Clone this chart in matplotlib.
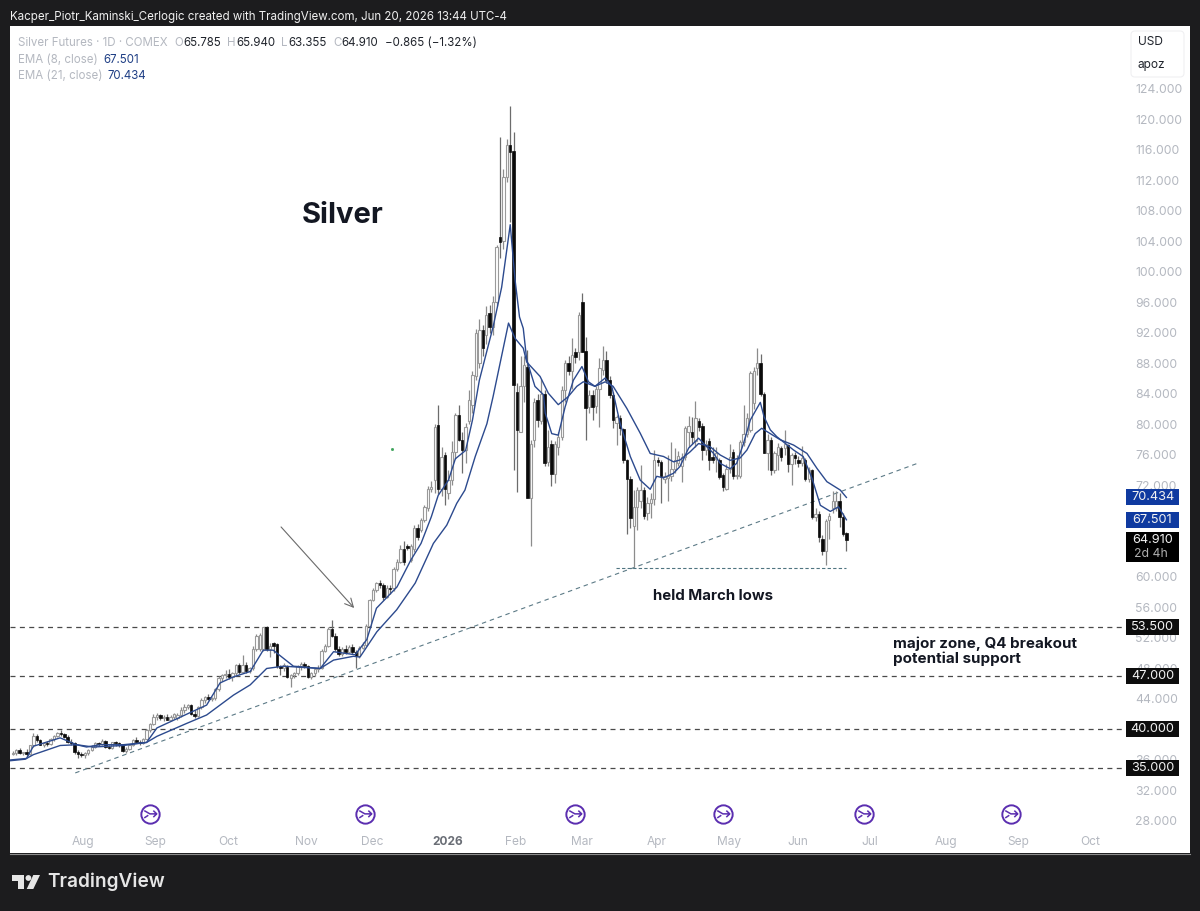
import numpy as np
import matplotlib
matplotlib.use('Agg')
import matplotlib.pyplot as plt
from matplotlib.patches import Circle, FancyBboxPatch, Polygon, Rectangle
from matplotlib.path import Path

plt.rcParams['font.family'] = ['Inter', 'DejaVu Sans']

# daily silver futures candles, ten bars per row
opens = [
    36.8, 36.9, 37.3, 36.9, 37.0, 36.8, 37.9, 39.2, 38.6, 38.0,
    38.2, 38.1, 38.7, 39.2, 39.5, 39.4, 39.0, 38.4, 38.2, 37.0,
    36.8, 36.6, 36.9, 37.3, 37.7, 38.2, 38.1, 38.5, 37.7, 37.6,
    38.3, 38.2, 37.9, 37.2, 37.5, 37.9, 38.6, 38.4, 38.2, 38.7,
    39.9, 40.7, 41.7, 41.9, 41.5, 41.7, 41.3, 41.6, 41.5, 41.9,
    42.6, 43.0, 43.2, 42.0, 41.8, 42.9, 43.9, 44.2, 44.0, 44.1,
    45.3, 46.8, 47.1, 47.3, 46.9, 47.4, 48.4, 47.6, 48.5, 47.7,
    48.0, 50.6, 50.5, 50.5, 53.4, 50.5, 51.3, 51.2, 48.3, 48.1,
    48.2, 46.8, 47.2, 47.4, 48.3, 48.6, 48.3, 46.9, 47.4, 47.9,
    48.1, 50.3, 51.0, 53.2, 52.3, 50.5, 49.9, 50.5, 50.2, 50.8,
    50.1, 49.6, 50.7, 51.1, 53.6, 57.0, 58.3, 59.2, 58.9, 57.4,
    58.6,
    58.6, 61.1, 62.0, 63.7, 64.1, 62.2, 63.7, 66.4, 66.2, 67.5,
    69.0, 71.6, 72.7, 79.9, 71.6, 76.0, 71.0, 72.7, 76.4, 81.2,
    78.0, 76.6, 80.4, 82.5, 86.3, 88.0, 92.4, 91.7, 94.6, 92.8,
    96.1, 104.6, 104.0, 112.4, 116.7, 115.9, 84.3, 79.0, 85.0, 87.6,
    70.3, 78.0, 83.2, 80.4, 84.0, 75.1, 77.5, 73.5, 77.0, 78.4,
    84.5, 88.0, 87.0, 89.5, 89.5, 96.0, 89.7, 82.3, 83.9, 82.4,
    84.7, 87.1, 88.5, 85.8, 83.9, 80.2, 80.8, 79.4, 75.3, 72.8,
    66.7, 69.2, 70.0, 71.4, 68.4, 69.7, 70.2, 75.4, 75.1, 72.8,
    73.0, 73.2, 74.2, 75.0, 74.5, 75.8, 79.0, 79.0, 77.8, 80.4,
    79.8, 76.7, 77.8, 75.8, 75.5, 75.3, 73.4, 71.6, 74.2, 76.4,
    73.2, 73.2, 77.7, 78.8, 79.3, 82.8, 87.4, 88.1, 84.0, 76.2,
    78.0, 74.0, 76.0, 76.9, 76.9, 77.3, 74.8, 76.0, 75.4, 75.0,
    75.3, 72.9, 74.0, 67.9, 68.3, 65.0, 63.4, 67.5, 69.0, 69.0,
    70.0, 67.9, 65.785,
]
highs = [
    37.2, 37.5, 37.6, 37.1, 37.4, 38.0, 39.5, 39.4, 38.8, 38.4,
    38.5, 38.9, 39.3, 39.7, 39.9, 39.6, 39.3, 38.7, 38.3, 37.3,
    37.0, 37.0, 37.4, 37.9, 38.4, 38.4, 38.7, 38.6, 38.0, 38.4,
    38.5, 38.4, 38.1, 37.7, 38.0, 38.7, 39.0, 38.6, 38.9, 40.1,
    40.9, 42.0, 42.1, 42.0, 41.9, 42.0, 41.9, 42.2, 42.2, 42.9,
    43.3, 43.4, 43.3, 42.6, 43.1, 44.1, 44.4, 44.6, 44.3, 45.5,
    47.0, 47.3, 47.8, 47.9, 47.6, 48.6, 48.7, 49.8, 48.9, 48.2,
    50.9, 52.5, 52.6, 53.5, 53.6, 51.3, 51.5, 51.4, 48.5, 48.7,
    48.4, 47.3, 47.6, 48.5, 48.8, 48.9, 48.5, 47.6, 48.1, 48.4,
    50.5, 51.2, 53.4, 54.4, 52.6, 50.9, 50.8, 51.1, 51.1, 51.2,
    50.4, 50.9, 51.5, 53.8, 57.1, 58.5, 59.4, 59.6, 59.2, 58.9,
    59.0,
    61.3, 62.4, 64.2, 64.7, 64.3, 64.3, 66.8, 66.9, 67.8, 69.5,
    71.9, 72.6, 80.0, 82.5, 77.0, 76.4, 74.0, 77.8, 81.5, 82.5,
    79.0, 80.2, 84.5, 87.0, 92.5, 93.8, 93.0, 95.5, 95.7, 96.9,
    103.5, 117.7, 113.5, 117.5, 121.8, 118.4, 85.5, 89.0, 89.0, 89.8,
    78.0, 83.5, 84.0, 86.0, 84.5, 79.3, 78.0, 77.8, 79.0, 85.0,
    88.5, 89.0, 91.3, 90.0, 94.7, 97.3, 91.5, 84.5, 84.5, 85.0,
    88.7, 90.3, 89.7, 86.3, 84.2, 81.3, 81.2, 79.6, 75.5, 73.3,
    71.4, 71.8, 74.7, 71.8, 70.5, 71.0, 76.6, 75.7, 75.4, 73.8,
    76.0, 77.7, 76.9, 76.5, 76.2, 79.8, 81.1, 81.0, 83.1, 80.9,
    80.2, 78.0, 78.2, 77.0, 77.1, 75.6, 73.7, 74.8, 77.4, 76.8,
    76.0, 78.0, 82.6, 81.5, 87.0, 87.5, 90.0, 89.2, 84.3, 78.8,
    78.4, 76.5, 77.6, 77.2, 79.3, 77.5, 76.2, 76.4, 75.9, 77.2,
    75.6, 74.4, 74.2, 69.0, 68.6, 65.5, 67.6, 68.4, 71.3, 71.3,
    71.0, 68.4, 65.94,
]
lows = [
    36.6, 36.6, 36.8, 36.6, 36.5, 36.7, 37.7, 38.4, 37.9, 37.7,
    37.8, 37.9, 38.5, 39.0, 39.2, 38.9, 38.2, 38.0, 36.8, 36.3,
    36.4, 36.3, 36.7, 37.2, 37.6, 37.8, 37.9, 37.6, 37.4, 37.5,
    37.8, 37.7, 37.0, 36.9, 37.3, 37.8, 38.2, 38.0, 38.1, 38.6,
    39.7, 40.6, 41.3, 41.3, 41.1, 41.2, 41.1, 41.4, 41.3, 41.6,
    42.2, 42.7, 41.9, 41.5, 41.6, 42.7, 43.5, 43.9, 43.8, 43.9,
    45.1, 46.4, 46.7, 46.6, 46.4, 47.1, 47.3, 47.4, 47.4, 47.4,
    47.8, 50.3, 50.3, 50.3, 50.3, 49.5, 50.0, 48.0, 47.2, 47.7,
    46.7, 45.6, 46.8, 47.1, 47.8, 48.0, 46.7, 46.6, 47.0, 47.6,
    47.9, 50.1, 50.8, 52.1, 50.3, 49.7, 49.6, 49.9, 50.0, 49.9,
    48.0, 49.4, 50.5, 51.0, 53.4, 56.8, 58.0, 58.6, 57.0, 57.2,
    57.8,
    58.2, 60.8, 61.8, 61.6, 63.6, 61.9, 63.3, 64.9, 65.9, 67.2,
    68.7, 71.2, 71.0, 70.9, 70.6, 69.4, 70.2, 72.0, 75.5, 77.8,
    73.6, 75.0, 80.0, 81.5, 85.8, 87.4, 89.0, 90.5, 92.0, 91.8,
    95.5, 101.8, 103.0, 111.8, 106.6, 74.0, 71.2, 79.0, 83.0, 70.3,
    64.0, 77.0, 79.7, 80.0, 74.5, 74.5, 71.9, 72.3, 76.0, 78.0,
    83.0, 86.5, 84.7, 88.0, 88.5, 89.5, 78.0, 81.5, 80.6, 81.5,
    79.7, 86.5, 85.5, 83.5, 79.5, 77.3, 78.6, 75.0, 65.7, 66.4,
    61.3, 66.2, 69.0, 67.6, 67.5, 67.7, 69.5, 74.6, 69.7, 72.3,
    70.0, 72.6, 73.6, 74.5, 72.5, 75.4, 77.0, 77.5, 77.0, 79.2,
    75.3, 76.0, 74.0, 75.0, 73.8, 72.8, 71.3, 71.4, 73.7, 72.9,
    72.9, 73.0, 77.2, 78.4, 79.0, 82.0, 86.5, 83.8, 76.2, 74.0,
    73.4, 73.6, 74.0, 75.2, 76.0, 73.8, 72.1, 74.8, 74.4, 74.6,
    72.6, 72.4, 67.6, 67.4, 64.6, 62.9, 61.6, 65.0, 68.4, 68.6,
    66.6, 65.4, 63.355,
]
closes = [
    36.9, 37.3, 36.9, 37.0, 36.8, 37.9, 39.2, 38.6, 38.0, 38.2,
    38.1, 38.7, 39.2, 39.5, 39.4, 39.0, 38.4, 38.2, 37.0, 36.8,
    36.6, 36.9, 37.3, 37.7, 38.2, 38.1, 38.5, 37.7, 37.6, 38.3,
    38.2, 37.9, 37.2, 37.5, 37.9, 38.6, 38.4, 38.2, 38.7, 39.9,
    40.7, 41.7, 41.9, 41.5, 41.7, 41.3, 41.6, 42.0, 41.9, 42.6,
    43.0, 43.2, 42.0, 41.8, 42.9, 43.9, 44.2, 44.0, 44.1, 45.3,
    46.8, 47.1, 47.3, 46.9, 47.4, 48.4, 47.6, 48.5, 47.7, 48.0,
    50.6, 52.3, 52.4, 53.4, 50.5, 51.0, 50.9, 48.3, 48.1, 48.4,
    46.9, 47.2, 47.4, 48.3, 48.6, 48.3, 46.9, 47.4, 47.9, 48.1,
    50.3, 51.0, 53.2, 52.3, 50.5, 49.9, 50.5, 50.2, 50.8, 50.1,
    49.6, 50.7, 51.1, 53.6, 57.0, 58.3, 59.2, 59.0, 57.4, 58.6,
    58.4,
    61.1, 62.0, 63.7, 62.0, 63.8, 64.0, 66.4, 65.3, 67.5, 69.2,
    71.5, 71.8, 79.7, 71.6, 75.8, 71.6, 72.7, 76.4, 81.2, 78.0,
    76.6, 79.7, 83.2, 86.5, 92.0, 92.4, 90.0, 94.4, 92.8, 96.1,
    103.3, 103.9, 112.4, 116.7, 115.8, 85.2, 79.3, 85.0, 87.8, 70.3,
    77.5, 83.0, 80.6, 84.0, 74.9, 77.0, 73.5, 77.5, 78.4, 84.5,
    88.0, 87.0, 89.1, 88.8, 94.4, 89.5, 82.2, 83.9, 82.3, 84.7,
    87.4, 88.5, 85.8, 83.9, 80.6, 81.0, 79.5, 75.3, 72.8, 67.8,
    69.2, 71.4, 71.4, 68.0, 69.7, 70.2, 75.4, 75.1, 73.2, 73.2,
    73.3, 74.2, 75.3, 75.9, 75.8, 79.6, 79.8, 78.3, 80.8, 79.7,
    76.7, 77.5, 75.4, 75.4, 76.2, 73.1, 71.8, 74.2, 75.8, 73.2,
    73.4, 77.7, 78.8, 80.8, 86.8, 87.0, 88.1, 84.0, 76.3, 78.0,
    74.0, 76.2, 77.1, 75.8, 77.5, 74.8, 76.0, 75.6, 75.0, 75.6,
    72.9, 74.0, 67.9, 68.3, 65.3, 63.4, 67.4, 68.0, 70.0, 70.0,
    67.9, 65.7, 64.91,
]

# moving averages: bar number, price
ema8_bars = [-20.8, -16, -14, -6.2, -1.4, 1.5, 5.4, 12.2, 19, 22, 32.6, 36.5, 40.4, 44.3, 49.2, 53, 55.9,
             61.8, 69.6, 73.5, 79.8, 83.2, 86, 92, 96, 99, 102, 104, 107, 109, 112, 114, 116, 120, 122.5,
             125, 126.4, 127.7, 128.8, 129.8, 132.2, 134.7, 135.2, 137.1, 139, 141, 143.4, 145.9, 147.8,
             149.7, 152.7, 154.6, 157, 160, 162.9, 165.8, 167.7, 169.7, 172.6, 174.5, 177, 179.9, 181.8,
             184.3, 186.2, 189.1, 191, 193, 195, 197.9, 199, 200.8, 202.7, 207.6, 210.4, 213, 215.4,
             218.3, 220.7, 223]
ema8_vals = [36.0, 36.2, 37.8, 38.9, 38.0, 37.7, 38.0, 38.0, 38.3, 40.2, 42.4, 43.2, 46.1, 46.9, 47.6, 50.4, 50.4,
             48.3, 48.0, 50.2, 49.8, 51.8, 55.9, 58.7, 62.2, 64.4, 67.9, 70.7, 72.7, 75.5, 76.6, 80.6, 85.8,
             92.8, 98.0, 106.2, 99.0, 94.1, 92.6, 88.5, 85.0, 83.9, 81.5, 78.8, 78.6, 82.3, 85.8, 87.6, 85.6,
             85.0, 86.1, 85.0, 80.2, 75.8, 72.7, 71.5, 73.2, 73.0, 73.6, 74.5, 76.9, 78.2, 77.3,
             76.2, 74.9, 74.2, 74.9, 77.5, 80.6, 82.9, 81.0, 79.3, 78.4, 76.65, 75.8, 72.9, 69.4,
             68.6, 69.2, 67.501]
ema21_bars = [-20.8, -16.4, -14, -6.2, -1.4, 3.4, 12.2, 19, 22, 30.7, 36.5, 44.3, 49.2, 54, 58.9, 69.6, 73.5, 79.3,
              81.2, 86.1, 91.9, 97.3, 102.6, 106.5, 109.4, 111.8, 114.8, 118.2, 120, 124.5, 126.4, 128.8,
              129.8, 133.7, 136.1, 139, 141.9, 144.4, 146.3, 149.7, 152.7, 155, 159, 162.9, 165.8, 169.7,
              172.6, 174.5, 177.4, 179.9, 183.2, 186.2, 189.1, 192, 194, 196.4, 198.3, 200.8, 203.7,
              207.6, 211.5, 214.4, 217.3, 221.2, 223]
ema21_vals = [35.9, 36.1, 36.7, 37.9, 38.0, 37.7, 37.9, 38.3, 39.1, 40.8, 41.9, 44.5, 45.85, 48.0, 48.3, 48.0, 49.1, 49.6,
              49.5, 52.8, 55.7, 59.2, 64.4, 66.8, 69.65, 71.4, 75.8, 80.1, 83.65, 93.3, 91.3, 90.0,
              88.2, 86.3, 84.1, 82.6, 83.65, 85.0, 85.6, 85.0, 85.6, 85.0, 82.1, 78.85, 76.2, 75.8,
              75.1, 75.35, 76.4, 77.5, 77.1, 76.0, 75.3, 75.6, 76.65, 78.8, 79.5, 78.8, 78.0,
              77.3, 76.2, 74.25, 72.5, 71.4, 70.434]

levels = [53.5, 47.0, 40.0, 35.0]
trend_bars = [-1.8, 244.0]
trend_vals = [34.3, 74.95]
held_bars = [155.8, 222.8]
held_val = 61.2
rollover_bars = [20, 82.7, 143.9, 187, 228.2, 271]
month_bars = [0.5, 21.5, 42.8, 65.5, 84.7, 106.9, 126.7, 146, 167.8, 188.8, 208.9, 229.9, 252, 273, 294]
month_labels = ['Aug', 'Sep', 'Oct', 'Nov', 'Dec', '2026', 'Feb', 'Mar', 'Apr', 'May', 'Jun', 'Jul', 'Aug', 'Sep', 'Oct']
# 40, 64 and 68 sit fully behind price tags, so they get no label
price_ticks = [28, 32, 36, 44, 48, 52, 56, 60, 72, 76, 80, 84, 88, 92, 96, 100, 104, 108, 112, 116, 120, 124]

DARK = '#1c1c1e'
NAVY = '#2c4a8e'
TAG_BLUE = '#0f3aa0'
MUTED = '#b4b8c0'
INK = '#131722'

fig = plt.figure(figsize=(12, 9.11), dpi=100, facecolor=DARK)

# page furniture is laid out in pixels on its own axes
page = fig.add_axes([0, 0, 1, 1], zorder=0)
page.set_xlim(0, 1200)
page.set_ylim(911, 0)
page.axis('off')
page.add_patch(Rectangle((10, 26), 1180, 827, fc='white', ec='none'))
page.plot([10, 1190], [853.5, 853.5], color='#8c8c8c', lw=0.8)
page.text(10, 17, 'Kacper_Piotr_Kaminski_Cerlogic created with TradingView.com, Jun 20, 2026 13:44 UTC-4',
          color='#f0f0f0', fontsize=8.3, va='center')

# TradingView logo
page.add_patch(Polygon([(12, 875), (24, 875), (24, 889), (18.3, 889), (18.3, 881), (12, 881)], fc='#e6e6e6', ec='none'))
page.add_patch(Circle((28.4, 878), 2.9, fc='#e6e6e6', ec='none'))
page.add_patch(Polygon([(33.3, 875), (40, 875), (33.3, 889), (26.7, 889)], fc='#e6e6e6', ec='none'))
page.text(47, 882, 'TradingView', color='#e6e6e6', fontsize=13.7, fontweight='semibold', va='center')

# legend block
page.text(18, 43, 'Silver Futures · 1D · COMEX', color=MUTED, fontsize=8.3, va='center')
for x, s, col in [(174, 'O', MUTED), (183, '65.785', '#20242c'), (227, 'H', MUTED), (236, '65.940', '#20242c'),
                  (281, 'L', MUTED), (288, '63.355', '#20242c'), (333, 'C', MUTED), (341, '64.910', '#20242c'),
                  (385, '−0.865 (−1.32%)', '#20242c')]:
    page.text(x, 43, s, color=col, fontsize=8.3, va='center')
page.text(18, 60, 'EMA (8, close)', color=MUTED, fontsize=8.3, va='center')
page.text(103, 60, '67.501', color='#1f3f85', fontsize=8.3, va='center')
page.text(18, 76, 'EMA (21, close)', color=MUTED, fontsize=8.3, va='center')
page.text(108, 76, '70.434', color='#1f3f85', fontsize=8.3, va='center')

# currency and unit box
page.add_patch(FancyBboxPatch((1131, 31), 53, 46, boxstyle='round,pad=0,rounding_size=4', fc='white', ec='#f0f0f2', lw=0.8))
page.text(1138, 42, 'USD', color='#20242c', fontsize=8.6, va='center')
page.text(1138, 65, 'apoz', color='#20242c', fontsize=8.6, va='center')

ax = fig.add_axes([10 / 1200, 1 - 853 / 911, 1116 / 1200, 827 / 911], zorder=1)
ax.patch.set_visible(False)
for spine in ax.spines.values():
    spine.set_visible(False)
ax.set_xlim(-20.82, 304.5)
ax.set_ylim(23.8, 132.26)
ax.set_axisbelow(True)

bars = np.arange(len(closes)) - 20
o = np.array(opens)
h = np.array(highs)
l = np.array(lows)
c = np.array(closes)
up = c >= o

ax.vlines(bars[up], l[up], h[up], color='#8c8c8c', lw=0.9, zorder=2)
ax.vlines(bars[~up], l[~up], h[~up], color='#6c6c6c', lw=0.9, zorder=2)
ax.bar(bars[up], (c - o)[up], bottom=o[up], width=0.68, fc='white', ec='#9a9a9a', lw=0.8, zorder=3)
ax.bar(bars[~up], (c - o)[~up], bottom=o[~up], width=0.72, fc='#0a0a0a', ec='#0a0a0a', lw=0.5, zorder=3)

ax.plot(ema8_bars, ema8_vals, color=NAVY, lw=1.0, zorder=4)
ax.plot(ema21_bars, ema21_vals, color=NAVY, lw=1.0, zorder=4)

# horizontal levels with their price tags
ax.hlines(levels, -20.82, 304.5, color='#4a4a4a', lw=0.9, linestyles=(0, (4, 3.5)), zorder=1)
ax.plot(trend_bars, trend_vals, color='#5c7a86', lw=0.8, ls=(0, (4, 3.5)), zorder=1)
ax.plot(held_bars, [held_val, held_val], color='#4f7480', lw=0.8, ls=(0, (3, 2)), zorder=1)
ax.plot([90.6], [76.8], marker='s', ms=1.0, color='#3da35a', zorder=1)

# hand drawn arrow towards the breakout
ax.annotate('', xy=(79.5, 55.93), xytext=(58.2, 66.56),
            arrowprops=dict(arrowstyle='->,head_length=0.6,head_width=0.3', color='#6a6a6a', lw=0.8, shrinkA=0, shrinkB=0))

ax.text(64.3, 107.4, 'Silver', fontsize=21, fontweight='bold', color=INK, va='center')
ax.text(166.6, 57.5, 'held March lows', fontsize=10.8, fontweight='bold', color=INK, va='center')
ax.text(236.6, 51.3, 'major zone, Q4 breakout', fontsize=10.9, fontweight='bold', color=INK, va='center')
ax.text(236.6, 49.3, 'potential support', fontsize=10.9, fontweight='bold', color=INK, va='center')

# contract rollover markers along the bottom
arrow_marker = Path([(-1, 0.62), (-0.1, 0.1), (1, 0.1), (0.45, 0.62), (1, 0.1), (0.45, -0.42), (-1, -0.55), (-0.35, -0.12)],
                    [Path.MOVETO, Path.LINETO, Path.LINETO, Path.MOVETO, Path.LINETO, Path.LINETO, Path.MOVETO, Path.LINETO])
rollover_y = [28.92] * len(rollover_bars)
ax.plot(rollover_bars, rollover_y, ls='none', marker='o', ms=13.2, mfc='white', mec='#5b2eb0', mew=1.4, zorder=5)
ax.plot(rollover_bars, rollover_y, ls='none', marker=arrow_marker, ms=9, mfc='none', mec='#5b2eb0', mew=1.1, zorder=6)

ax.set_xticks(month_bars)
ax.set_xticklabels(month_labels)
ax.tick_params(axis='x', length=0, pad=-12, labelsize=8.6, labelcolor=MUTED)
for label in ax.get_xticklabels():
    if label.get_text() == '2026':
        label.set_fontweight('bold')
        label.set_color('#6a6e76')

ax.yaxis.tick_right()
ax.set_yticks(price_ticks)
ax.set_yticklabels([f'{p:.3f}' for p in price_ticks])
ax.tick_params(axis='y', length=0, pad=6.5, labelsize=8.8, labelcolor=MUTED)

trans = ax.get_yaxis_transform()
tag_left = 1.0
tag_width = 53 / 1116
tag_middle = 1 + 26.5 / 1116


def price_tag(value, text, color, height=16):
    # tag box on the price scale, centred on its value
    half = height / 2 / 7.625
    ax.add_patch(Rectangle((tag_left, value - half), tag_width, 2 * half, transform=trans, fc=color, ec='none',
                           clip_on=False, zorder=10))
    ax.text(tag_middle, value, text, transform=trans, color='#f2f2f2', fontsize=9.2,
            ha='center', va='center', zorder=11, clip_on=False)


price_tag(70.434, '70.434', TAG_BLUE)
price_tag(67.501, '67.501', TAG_BLUE)
for level in levels:
    price_tag(level, f'{level:.3f}', '#0d0d0d')

# last price tag carries the countdown to the bar close
ax.add_patch(Rectangle((tag_left, 61.97), tag_width, 30 / 7.625, transform=trans, fc='black', ec='none',
                       clip_on=False, zorder=10))
ax.text(tag_middle, 64.91, '64.910', transform=trans, color='#f2f2f2', fontsize=9.2, ha='center', va='center',
        zorder=11, clip_on=False)
ax.text(tag_middle - 2 / 1116, 63.0, '2d 4h', transform=trans, color='#b0b0b0', fontsize=8.8, ha='center', va='center',
        zorder=11, clip_on=False)

fig.savefig('out.png', dpi=100, facecolor=DARK)
